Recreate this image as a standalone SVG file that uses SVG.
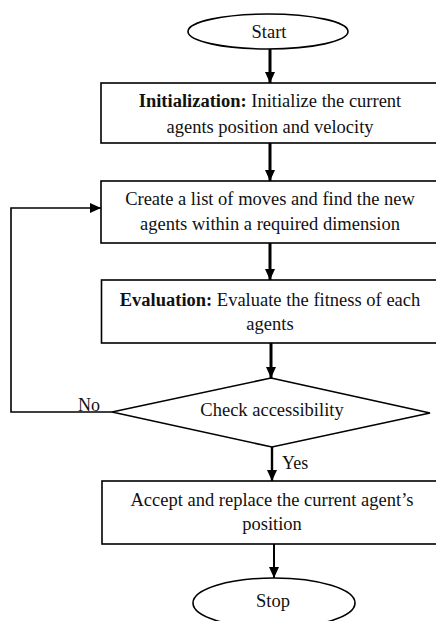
<svg xmlns="http://www.w3.org/2000/svg" width="436" height="621" viewBox="0 0 436 621">
<defs>
<marker id="ah" markerUnits="userSpaceOnUse" markerWidth="12" markerHeight="12" viewBox="0 0 12 12" refX="11" refY="6" orient="auto">
<path d="M0,1 L11,6 L0,11 Z" fill="#000"/>
</marker>
<style>
.box{fill:#fff;stroke:#000;stroke-width:1.6}
.t{font-family:"Liberation Serif","Times New Roman",serif;font-size:18.5px;fill:#111;text-anchor:middle}
.b{font-weight:bold}
.lbl{font-family:"Liberation Serif","Times New Roman",serif;font-size:18px;fill:#111}
.c{fill:none;stroke:#000}
</style>
</defs>
<rect width="436" height="621" fill="#fff"/>
<g id="connectors">
<line class="c" x1="270" y1="49" x2="270" y2="83" stroke-width="3" marker-end="url(#ah)"/>
<line class="c" x1="270" y1="143" x2="270" y2="181" stroke-width="3" marker-end="url(#ah)"/>
<line class="c" x1="270" y1="243" x2="270" y2="280" stroke-width="3" marker-end="url(#ah)"/>
<line class="c" x1="271" y1="343" x2="271" y2="378" stroke-width="3" marker-end="url(#ah)"/>
<line class="c" x1="272" y1="447" x2="272" y2="481" stroke-width="2.4" marker-end="url(#ah)"/>
<line class="c" x1="274" y1="544" x2="274" y2="578" stroke-width="2" marker-end="url(#ah)"/>
<polyline class="c" points="112,412 11,412 11,208 101,208" stroke-width="1.6" marker-end="url(#ah)"/>
<text class="lbl" x="78" y="411">No</text>
<text class="lbl" x="282" y="469">Yes</text>
</g>
<g id="start">
<ellipse class="box" cx="268" cy="31.5" rx="80" ry="17.5"/>
<text class="t" x="269" y="38">Start</text>
</g>
<g id="init">
<rect class="box" x="101" y="83" width="340" height="60"/>
<text class="t" x="270" y="107"><tspan class="b">Initialization:</tspan> Initialize the current</text>
<text class="t" x="270" y="133">agents position and velocity</text>
</g>
<g id="create">
<rect class="box" x="101" y="181" width="340" height="62"/>
<text class="t" x="270" y="205">Create a list of moves and find the new</text>
<text class="t" x="270" y="230">agents within a required dimension</text>
</g>
<g id="eval">
<rect class="box" x="101.5" y="280" width="340" height="63"/>
<text class="t" x="270" y="306"><tspan class="b">Evaluation:</tspan> Evaluate the fitness of each</text>
<text class="t" x="270" y="330">agents</text>
</g>
<g id="check">
<polygon class="box" points="271,378 430,413 272,447 112,412"/>
<text class="t" x="272" y="416">Check accessibility</text>
</g>
<g id="accept">
<rect class="box" x="102" y="481" width="340" height="63"/>
<text class="t" x="272" y="506">Accept and replace the current agent’s</text>
<text class="t" x="272" y="530">position</text>
</g>
<g id="stop">
<ellipse class="box" cx="274" cy="603" rx="81" ry="25"/>
<text class="t" x="273" y="607">Stop</text>
</g>
</svg>
